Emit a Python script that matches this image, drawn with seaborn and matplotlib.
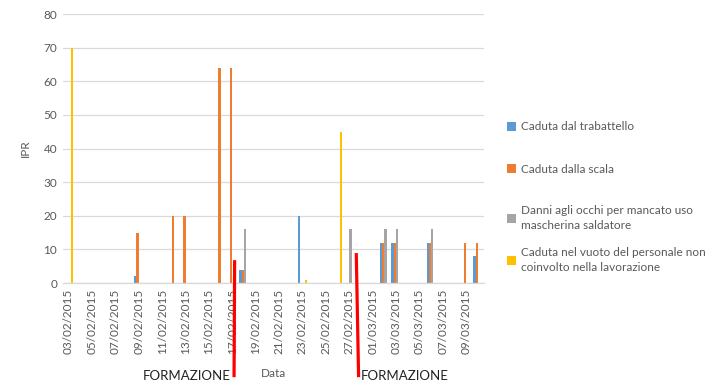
import matplotlib
matplotlib.use("Agg")
import matplotlib.pyplot as plt
import numpy as np
import pandas as pd
import seaborn as sns
from matplotlib.patches import Patch

# ---------------- data ----------------
series_names = [
    "Caduta dal trabattello",
    "Caduta dalla scala",
    "Danni agli occhi per mancato uso mascherina saldatore",
    "Caduta nel vuoto del personale non coinvolto nella lavorazione",
]
legend_labels = [
    "Caduta dal trabattello",
    "Caduta dalla scala",
    "Danni agli occhi per mancato uso\nmascherina saldatore",
    "Caduta nel vuoto del personale non\ncoinvolto nella lavorazione",
]
colors = ["#5B9BD5", "#ED7D31", "#A5A5A5", "#FFC000"]

day_labels = pd.date_range("2015-02-03", "2015-03-10").strftime("%d/%m/%Y").tolist()

trabattello_dates = ["09/02/2015", "18/02/2015", "23/02/2015", "02/03/2015",
                     "03/03/2015", "06/03/2015", "10/03/2015"]
trabattello_values = [2, 4, 20, 12, 12, 12, 8]

scala_dates = ["09/02/2015", "12/02/2015", "13/02/2015", "16/02/2015", "17/02/2015",
               "18/02/2015", "02/03/2015", "03/03/2015", "06/03/2015", "09/03/2015",
               "10/03/2015"]
scala_values = [15, 20, 20, 64, 64, 4, 12, 12, 12, 12, 12]

occhi_dates = ["18/02/2015", "27/02/2015", "02/03/2015", "03/03/2015", "06/03/2015"]
occhi_values = [16, 16, 16, 16, 16]

vuoto_dates = ["03/02/2015", "23/02/2015", "26/02/2015"]
vuoto_values = [70, 1, 45]

y_ticks = [0, 10, 20, 30, 40, 50, 60, 70, 80]
annotation_text = "FORMAZIONE"

# ---------------- build table ----------------
frames = []
for name, d, v in zip(series_names,
                      [trabattello_dates, scala_dates, occhi_dates, vuoto_dates],
                      [trabattello_values, scala_values, occhi_values, vuoto_values]):
    frames.append(pd.DataFrame({"Data": d, "IPR": v, "Serie": name}))
df = pd.concat(frames, ignore_index=True)

# ---------------- plot ----------------
sns.set_theme(style="white")
plt.rcParams["font.family"] = ["Lato", "DejaVu Sans"]

fig = plt.figure(figsize=(7.16, 3.84), dpi=100)
ax = fig.add_axes([0.0876, 0.263, 0.588, 0.7005])

sns.barplot(data=df, x="Data", y="IPR", hue="Serie", order=day_labels,
            hue_order=series_names, palette=colors, saturation=1, width=0.78,
            dodge=True, legend=False, ax=ax, linewidth=0)

ax.set_xlim(-0.5, len(day_labels) - 0.5)
ax.set_ylim(0, 80)
ax.set_yticks(y_ticks)
ax.set_yticklabels([str(t) for t in y_ticks], fontsize=8.5, color="#595959")
ax.set_xticks(range(0, len(day_labels), 2))
ax.set_xticklabels(day_labels[::2], rotation=90, fontsize=8.5, color="#595959")
ax.tick_params(axis="both", length=0, pad=4)
ax.yaxis.grid(True, color="#D9D9D9", linewidth=0.9)
ax.set_axisbelow(True)
for s in ["left", "right", "top"]:
    ax.spines[s].set_visible(False)
ax.spines["bottom"].set_color("#D9D9D9")
ax.spines["bottom"].set_linewidth(0.9)

ax.set_ylabel("IPR", fontsize=8.5, color="#595959", labelpad=9)
ax.set_xlabel("Data", fontsize=8.5, color="#595959", labelpad=10)

# red markers (annotations)
ax.plot([14.2, 14.15], [6.8, -28.0], color="#FF0000", lw=2.3, clip_on=False,
        zorder=5, solid_capstyle="butt")
ax.plot([24.6, 24.8], [8.9, -28.0], color="#FF0000", lw=2.3, clip_on=False,
        zorder=5, solid_capstyle="butt")
fig.text(0.2608, 0.022, annotation_text, fontsize=9.5, color="#222222",
         ha="center", va="center")
fig.text(0.5656, 0.022, annotation_text, fontsize=9.5, color="#222222",
         ha="center", va="center")

# legend: one entry per legend so the vertical spacing can follow the reference
legend_y = [0.670, 0.559, 0.432, 0.323]
for c, lab, y in zip(colors, legend_labels, legend_y):
    lg = fig.legend([Patch(facecolor=c, edgecolor="none")], [lab],
                    loc="center left", bbox_to_anchor=(0.708, y), frameon=False,
                    fontsize=8.5, labelcolor="#595959", handlelength=0.8,
                    handleheight=0.8, handletextpad=0.4, borderpad=0,
                    borderaxespad=0)
    for t in lg.get_texts():
        t.set_linespacing(1.45)

fig.savefig("out.png", dpi=100)
